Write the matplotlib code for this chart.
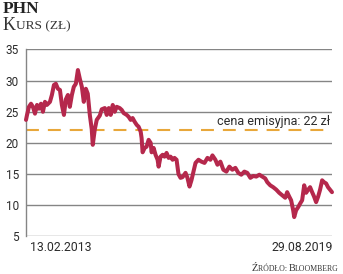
import matplotlib
matplotlib.use('Agg')
import matplotlib.pyplot as plt
import matplotlib.transforms as mtransforms
import pandas as pd

# ---- data ----
dates = [
    '2013-02-13', '2013-02-21', '2013-03-08', '2013-03-24', '2013-04-08', '2013-04-24',
    '2013-05-10', '2013-05-25', '2013-06-10', '2013-06-25', '2013-07-11', '2013-07-26',
    '2013-08-19', '2013-09-03', '2013-09-19', '2013-10-04', '2013-10-20', '2013-11-05',
    '2013-11-20', '2013-12-06', '2013-12-21', '2014-01-06', '2014-01-21', '2014-02-06',
    '2014-02-21', '2014-03-09', '2014-03-25', '2014-04-09', '2014-04-25', '2014-05-10',
    '2014-05-26', '2014-06-10', '2014-06-26', '2014-07-11', '2014-07-19', '2014-08-04',
    '2014-08-19', '2014-09-12', '2014-09-27', '2014-10-21', '2014-11-05', '2014-11-21',
    '2014-12-06', '2014-12-22', '2015-01-06', '2015-01-22', '2015-02-14', '2015-03-02',
    '2015-03-17', '2015-04-10', '2015-04-25', '2015-05-11', '2015-05-26', '2015-06-11',
    '2015-06-27', '2015-07-12', '2015-07-28', '2015-08-04', '2015-08-12', '2015-08-28',
    '2015-09-12', '2015-09-28', '2015-10-14', '2015-10-21', '2015-11-06', '2015-11-21',
    '2015-12-07', '2015-12-15', '2015-12-30', '2016-01-15', '2016-01-30', '2016-02-15',
    '2016-03-02', '2016-03-17', '2016-04-02', '2016-04-17', '2016-05-03', '2016-05-18',
    '2016-06-03', '2016-06-18', '2016-07-12', '2016-07-27', '2016-08-12', '2016-08-27',
    '2016-09-12', '2016-09-28', '2016-10-21', '2016-11-13', '2016-12-07', '2016-12-30',
    '2017-01-22', '2017-02-07', '2017-03-02', '2017-03-18', '2017-04-10', '2017-05-03',
    '2017-05-27', '2017-06-19', '2017-07-12', '2017-08-05', '2017-08-28', '2017-09-20',
    '2017-10-14', '2017-11-06', '2017-11-30', '2017-12-23', '2018-01-15', '2018-02-08',
    '2018-03-03', '2018-03-26', '2018-04-11', '2018-05-04', '2018-05-27', '2018-06-20',
    '2018-07-13', '2018-08-05', '2018-08-29', '2018-09-13', '2018-09-29', '2018-10-14',
    '2018-10-30', '2018-11-07', '2018-11-22', '2018-12-08', '2018-12-24', '2019-01-08',
    '2019-01-24', '2019-02-08', '2019-02-24', '2019-03-11', '2019-03-27', '2019-04-11',
    '2019-04-27', '2019-05-13', '2019-05-28', '2019-06-13', '2019-06-28', '2019-07-14',
    '2019-07-29', '2019-08-14', '2019-08-29',
]
prices = [
    23.7, 24.5, 25.8, 26.3, 25.8, 24.7,
    26.1, 25.5, 26.3, 25.0, 26.6, 26.1,
    26.6, 27.7, 29.3, 29.5, 28.7, 28.5,
    26.1, 24.5, 27.0, 27.7, 25.8, 27.7,
    29.0, 29.5, 31.7, 30.3, 29.0, 26.6,
    28.7, 27.9, 24.5, 22.2, 19.7, 22.2,
    23.7, 24.4, 25.4, 25.6, 24.5, 25.6,
    24.5, 26.1, 25.0, 25.8, 25.6, 25.3,
    24.8, 24.5, 24.2, 23.7, 24.0, 23.4,
    22.9, 22.6, 21.8, 20.8, 18.5, 19.2,
    19.4, 20.5, 20.0, 18.5, 19.2, 18.1,
    17.3, 16.2, 17.8, 18.1, 17.8, 18.4,
    17.6, 17.8, 17.3, 17.6, 17.3, 15.0,
    14.4, 14.5, 15.2, 14.4, 13.0, 14.0,
    15.4, 16.8, 17.3, 17.0, 16.8, 17.6,
    17.3, 18.0, 17.3, 16.5, 17.0, 15.7,
    15.4, 16.2, 15.7, 16.0, 15.2, 14.9,
    15.4, 15.2, 14.4, 14.7, 14.6, 14.9,
    14.6, 14.3, 13.7, 13.2, 12.9, 12.5,
    12.0, 11.6, 11.2, 12.1, 11.4, 10.8,
    9.2, 8.1, 9.2, 9.7, 10.3, 10.8,
    13.2, 12.0, 12.5, 12.9, 12.1, 11.4,
    10.5, 11.4, 12.5, 14.0, 13.7, 13.5,
    12.9, 12.5, 12.1,
]
y_ticks = [5, 10, 15, 20, 25, 30, 35]
issue_price = 22
issue_label = 'cena emisyjna: 22 zł'
x_labels = ['13.02.2013', '29.08.2019']
title = 'PHN'
subtitle_big, subtitle_small = 'K', 'URS (ZŁ)'
source_parts = [('Ź', True), ('RÓDŁO: ', False), ('B', True), ('LOOMBERG', False)]

# ---- styles ----
LINE = '#b5284c'
DASH = '#e8a73a'
GRID = '#858585'
TXT = '#2b2b2b'
NUMFONT = ['Roboto', 'DejaVu Sans']
SERIF = ['Liberation Serif', 'DejaVu Serif']

x = pd.to_datetime(dates)

W, H = 343, 274
fig = plt.figure(figsize=(W / 100, H / 100), dpi=100)
ax = fig.add_axes([26 / W, 37.6 / H, (332 - 26) / W, (236.4 - 49.5) / H])

for t in y_ticks:
    ax.axhline(t, color=GRID, lw=1.0, zorder=1)
ax.axhline(issue_price, color=DASH, lw=1.5, dashes=(6.2, 4.3), zorder=2)
ax.plot(x, prices, color=LINE, lw=2.9, solid_joinstyle='round',
        solid_capstyle='round', clip_on=False, zorder=3)

ax.set_xlim(x[0], x[-1])
ax.set_ylim(5, 35)
for s in ['top', 'right', 'bottom']:
    ax.spines[s].set_visible(False)
ax.spines['left'].set_color(GRID)
ax.spines['left'].set_linewidth(1.0)

ax.set_yticks(y_ticks)
ax.set_yticklabels([str(t) for t in y_ticks], family=NUMFONT, fontsize=8.5, color=TXT)
ax.tick_params(axis='y', length=0, pad=5)
ax.set_xticks([])

blend = mtransforms.blended_transform_factory(ax.transData, ax.transAxes)
t0 = mtransforms.offset_copy(blend, fig=fig, x=4, y=-5, units='dots')
t1 = mtransforms.offset_copy(blend, fig=fig, x=1, y=-5, units='dots')
ax.text(x[0], 0, x_labels[0], transform=t0, ha='left', va='top',
        family=NUMFONT, fontsize=8.8, color=TXT)
ax.text(x[-1], 0, x_labels[1], transform=t1, ha='right', va='top',
        family=NUMFONT, fontsize=8.8, color=TXT)

tl = mtransforms.offset_copy(ax.transData, fig=fig, x=-2, y=5.5, units='dots')
ax.text(x[-1], issue_price, issue_label, transform=tl, ha='right', va='baseline',
        family=NUMFONT, fontsize=9, color=TXT, zorder=4)

# titles
fig.text(3 / W, 1 - 13 / H, title, family=SERIF, weight='bold', fontsize=12.5,
         color='#222222', va='baseline', ha='left')

renderer = fig.canvas.get_renderer()
k = fig.text(3 / W, 1 - 29.5 / H, subtitle_big, family=SERIF, fontsize=13,
             color='#333333', va='baseline', ha='left')
bb = k.get_window_extent(renderer)
fig.text((bb.x1 + 0.5) / W, 1 - 29.5 / H, subtitle_small, family=SERIF, fontsize=9.6,
         color='#333333', va='baseline', ha='left')

# source, right aligned at x=339
pieces = []
xpos = 0
for txt, big in source_parts:
    t = fig.text(0, 1 - 271 / H, txt, family=SERIF, fontsize=7.4 if big else 5.6,
                 color='#333333', va='baseline', ha='left')
    w = t.get_window_extent(renderer).width
    pieces.append((t, xpos))
    xpos += w
start = 339 - xpos
for t, off in pieces:
    t.set_x((start + off) / W)

fig.savefig('out.png', dpi=100)
